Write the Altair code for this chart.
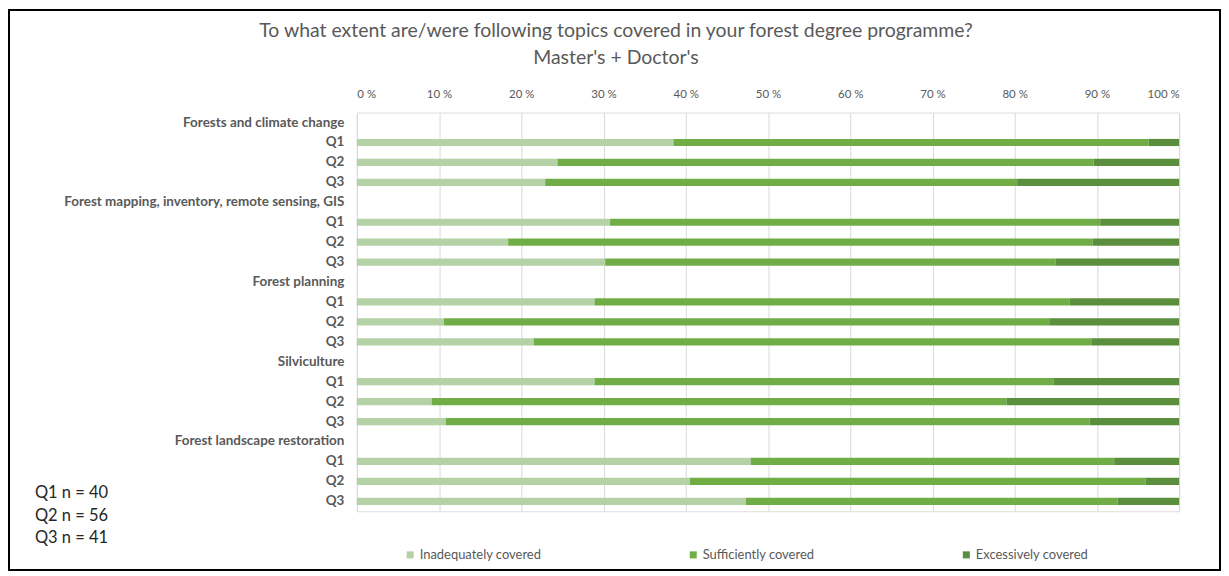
import altair as alt
import pandas as pd

topics = [
    "Forests and climate change",
    "Forest mapping, inventory, remote sensing, GIS",
    "Forest planning",
    "Silviculture",
    "Forest landscape restoration",
]
questions = ["Q1", "Q2", "Q3"]

# percentages per topic x question (row order: topic1 Q1..Q3, topic2 Q1..Q3, ...)
inadequate = [38.5, 24.4, 22.9, 30.8, 18.4, 30.2, 28.9, 10.6, 21.5, 28.9, 9.1, 10.8, 47.9, 40.5, 47.3]
sufficient = [57.8, 65.2, 57.4, 59.6, 71.1, 54.8, 57.8, 73.6, 67.9, 55.8, 69.9, 78.3, 44.2, 55.4, 45.2]
excessive = [3.7, 10.4, 19.7, 9.6, 10.5, 15.0, 13.3, 15.8, 10.6, 15.3, 21.0, 10.9, 7.9, 4.1, 7.5]

categories = ["Inadequately covered", "Sufficiently covered", "Excessively covered"]
colors = ["#b5d2a7", "#70ad47", "#5b8f3e"]

sample_notes = ["Q1 n = 40", "Q2 n = 56", "Q3 n = 41"]
title_lines = [
    "To what extent are/were following topics covered in your forest degree programme?",
    "Master's + Doctor's",
]
x_ticks = [0, 10, 20, 30, 40, 50, 60, 70, 80, 90, 100]

FONT = "Lato"
GREY = "#595959"

rows = []
domain = []
i = 0
for t in topics:
    domain.append(t)
    for q in questions:
        key = f"{t}|{q}"
        domain.append(key)
        for c, series in enumerate([inadequate, sufficient, excessive]):
            rows.append({"row": key, "category": categories[c], "order": c, "value": series[i]})
        i += 1
df = pd.DataFrame(rows)

W, H = 825, 400

bars = alt.Chart(df).mark_bar().encode(
    y=alt.Y(
        "row:N",
        sort=domain,
        scale=alt.Scale(domain=domain, paddingInner=0.64, paddingOuter=0.32),
        axis=alt.Axis(
            title=None,
            ticks=False,
            domain=False,
            grid=False,
            labelFont=FONT,
            labelFontSize=13.5,
            labelFontWeight="bold",
            labelColor=GREY,
            labelPadding=13,
            labelLimit=400,
            labelExpr="indexof(datum.label, '|') >= 0 ? split(datum.label, '|')[1] : datum.label",
        ),
    ),
    x=alt.X(
        "value:Q",
        stack="zero",
        scale=alt.Scale(domain=[0, 100], nice=False),
        axis=alt.Axis(
            orient="top",
            title=None,
            values=x_ticks,
            labelExpr="datum.value + ' %'",
            ticks=False,
            domain=False,
            grid=True,
            gridColor="#d9d9d9",
            labelFont=FONT,
            labelFontSize=11.5,
            labelColor=GREY,
            labelPadding=13,
        ),
    ),
    color=alt.Color(
        "category:N",
        scale=alt.Scale(domain=categories, range=colors),
        legend=alt.Legend(
            title=None,
            orient="none",
            direction="horizontal",
            legendX=47,
            legendY=437,
            padding=0,
            symbolType="square",
            symbolSize=50,
            symbolStrokeWidth=0,
            labelFont=FONT,
            labelFontSize=13,
            labelColor=GREY,
            labelOffset=3,
            columnPadding=145,
        ),
    ),
    order=alt.Order("order:Q"),
)

title = alt.Chart(alt.Data(values=[{"t": "\n".join(title_lines)}])).mark_text(
    align="center",
    baseline="middle",
    font=FONT,
    fontSize=19.5,
    color=GREY,
    lineBreak="\n",
    lineHeight=27,
).encode(text="t:N", x=alt.value(260), y=alt.value(-81.5))

notes = alt.Chart(alt.Data(values=[{"t": "\n".join(sample_notes)}])).mark_text(
    align="left",
    baseline="middle",
    font=FONT,
    fontSize=16.5,
    color="#262626",
    lineBreak="\n",
    lineHeight=22.5,
).encode(text="t:N", x=alt.value(-323), y=alt.value(382))

border = alt.Chart(alt.Data(values=[{"b": 1}])).mark_rect(
    filled=False, stroke="black", strokeWidth=2
).encode(x=alt.value(-349), x2=alt.value(866), y=alt.value(-103), y2=alt.value(459))

chart = alt.layer(bars, title, notes, border).properties(
    width=W,
    height=H,
    padding={"left": 0, "top": 0, "right": 0, "bottom": 0},
).configure_view(stroke=None).configure(background="white")

chart.save("out.html", embed_options={"renderer": "svg", "actions": False})
